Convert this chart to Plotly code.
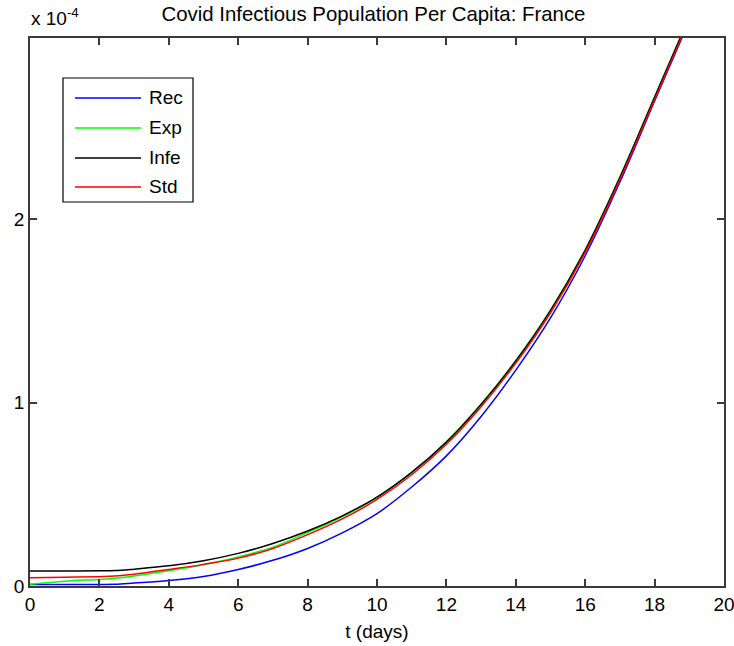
import plotly.graph_objects as go

# Simulated per-capita compartments (in units of 1e-4)
t_days = [0, 1, 2, 2.45, 3, 4, 5, 6, 7, 8, 9, 10, 11, 12, 13, 14, 15, 16, 17, 18, 19]
rec = [0.008, 0.008, 0.008, 0.009, 0.016, 0.030, 0.052, 0.090, 0.140, 0.205, 0.290, 0.395, 0.540, 0.710, 0.925, 1.178, 1.463, 1.802, 2.204, 2.646, 3.084]
exp_ = [0.010, 0.026, 0.036, 0.042, 0.055, 0.083, 0.116, 0.158, 0.212, 0.292, 0.378, 0.483, 0.620, 0.787, 0.993, 1.231, 1.506, 1.835, 2.232, 2.669, 3.107]
infe = [0.082, 0.082, 0.083, 0.084, 0.092, 0.110, 0.138, 0.178, 0.232, 0.300, 0.383, 0.485, 0.620, 0.785, 0.990, 1.228, 1.503, 1.832, 2.229, 2.666, 3.104]
std = [0.045, 0.048, 0.051, 0.054, 0.064, 0.090, 0.118, 0.152, 0.205, 0.280, 0.366, 0.472, 0.607, 0.773, 0.978, 1.216, 1.491, 1.820, 2.217, 2.654, 3.092]

series_names = ["Rec", "Exp", "Infe", "Std"]
series_values = [rec, exp_, infe, std]
series_colors = ["#0000ff", "#00ff00", "#000000", "#ff0000"]

x_ticks = [0, 2, 4, 6, 8, 10, 12, 14, 16, 18, 20]
y_ticks = [0, 1, 2]

FONT = "Liberation Sans, Arial, sans-serif"
AXIS_COLOR = "#3a3a3a"

fig = go.Figure()
for name, vals, color in zip(series_names, series_values, series_colors):
    fig.add_trace(go.Scatter(
        x=t_days, y=vals, name=name, mode="lines",
        line=dict(color=color, width=1.5, shape="spline", smoothing=1.0),
        showlegend=False,
    ))

# Boxed legend in the upper-left corner
lx0, lx1, ly_top, ly_bot = 63, 193, 78, 202
W, H = 734, 646
ml, mr, mt, mb = 30, 10, 38, 60
pw, ph = W - ml - mr, H - mt - mb


def px(x):
    return (x - ml) / pw


def py(y):
    return 1 - (y - mt) / ph


shapes = [dict(type="rect", xref="paper", yref="paper",
               x0=px(lx0), x1=px(lx1), y0=py(ly_bot), y1=py(ly_top),
               line=dict(color="#000000", width=1.2), fillcolor="white", layer="above")]
annotations = []
row_y = [98, 128, 158, 187]
for name, color, ry in zip(series_names, series_colors, row_y):
    shapes.append(dict(type="line", xref="paper", yref="paper",
                       x0=px(75), x1=px(141), y0=py(ry), y1=py(ry),
                       line=dict(color=color, width=1.5), layer="above"))
    annotations.append(dict(xref="paper", yref="paper", x=px(147), y=py(ry),
                            text=name, showarrow=False, xanchor="left", yanchor="middle",
                            font=dict(family=FONT, size=19, color="#000000")))

annotations.append(dict(xref="paper", yref="paper", x=px(29), y=py(17),
                        text="x 10<sup>-4</sup>", showarrow=False,
                        xanchor="left", yanchor="middle",
                        font=dict(family=FONT, size=19, color="#000000")))

fig.update_layout(
    width=W, height=H,
    margin=dict(l=ml, r=mr, t=mt, b=mb, pad=0),
    paper_bgcolor="white", plot_bgcolor="white",
    font=dict(family=FONT, size=19, color="#000000"),
    title=dict(text="Covid Infectious Population Per Capita: France",
               x=373.5 / W, xanchor="center", y=1 - 14 / H, yanchor="middle",
               font=dict(family=FONT, size=20.4, color="#000000")),
    shapes=shapes, annotations=annotations,
    xaxis=dict(range=[0, 20], tickvals=x_ticks, ticktext=[str(v) for v in x_ticks],
               ticks="inside", ticklen=7, tickwidth=1.5, tickcolor=AXIS_COLOR,
               showline=True, linecolor=AXIS_COLOR, linewidth=1.5, mirror="ticks",
               showgrid=False, zeroline=False, automargin=False,
               ticklabeloverflow="allow",
               title=dict(text="t (days)", standoff=11, font=dict(family=FONT, size=19))),
    yaxis=dict(range=[0, 2.99], tickvals=y_ticks, ticktext=[str(v) for v in y_ticks],
               ticks="inside", ticklen=7, tickwidth=1.5, tickcolor=AXIS_COLOR,
               showline=True, linecolor=AXIS_COLOR, linewidth=1.5, mirror="ticks",
               showgrid=False, zeroline=False, automargin=False,
               ticklabeloverflow="allow"),
)

fig.write_html("out.html")
